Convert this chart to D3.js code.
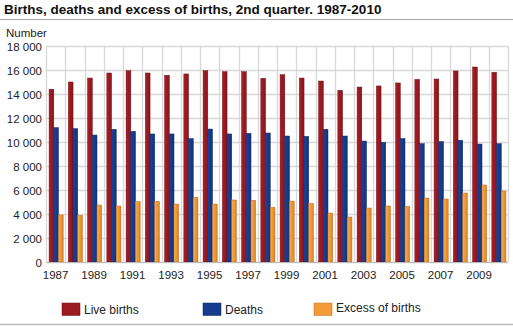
<!DOCTYPE html>
<html><head><meta charset="utf-8">
<script src="https://cdn.jsdelivr.net/npm/d3@7"></script>
<style>body{margin:0;background:#fff}svg{display:block;font-family:"Liberation Sans",Arial,sans-serif}</style>
</head><body><svg id="c" width="513" height="326"></svg>
<script>
const years = ["1987","1988","1989","1990","1991","1992","1993","1994","1995","1996","1997","1998","1999","2000","2001","2002","2003","2004","2005","2006","2007","2008","2009","2010"];
const liveBirths = [14400,15000,15330,15750,15940,15750,15560,15670,15940,15860,15860,15310,15610,15330,15080,14310,14580,14670,14920,15220,15250,15920,16250,15810];
const deaths = [11200,11110,10580,11060,10890,10670,10670,10280,11080,10670,10720,10750,10500,10470,11060,10500,10080,9970,10280,9860,10030,10140,9830,9860];
const excess = [3920,3890,4750,4670,5030,5060,4830,5390,4830,5170,5140,4560,5080,4890,4080,3750,4500,4670,4640,5330,5250,5750,6420,5920];
const seriesNames = ["Live births","Deaths","Excess of births"];
const colors = ["#9c1a22","#173c8e","#f39b39"];
const strokes = ["#6e1016","#0e2560","#c06f22"];
const yTicks = [0,2000,4000,6000,8000,10000,12000,14000,16000,18000];
const yLabels = ["0","2 000","4 000","6 000","8 000","10 000","12 000","14 000","16 000","18 000"];

const svg = d3.select("#c");
const L=46, R=508, T=46, B=262;
const x = d3.scaleBand().domain(years).range([L,R]).padding(0);
const y = d3.scaleLinear().domain([0,18000]).range([B,T]);
const xs = d3.scaleBand().domain(seriesNames).range([0,x.bandwidth()]).paddingInner(0).paddingOuter(0.55).align(0.6);

// title
svg.append("text").attr("x",4).attr("y",14).attr("font-size",13.5).attr("font-weight","bold").attr("fill","#111")
  .text("Births, deaths and excess of births, 2nd quarter. 1987-2010");
svg.append("line").attr("x1",0).attr("x2",513).attr("y1",19.5).attr("y2",19.5).attr("stroke","#aaa").attr("stroke-width",1);
svg.append("text").attr("x",6).attr("y",37).attr("font-size",11.5).attr("fill","#222").text("Number");

// grid
const g = svg.append("g");
g.selectAll(".hg").data(yTicks).join("line").attr("x1",L).attr("x2",R)
  .attr("y1",d=>Math.round(y(d))+0.5).attr("y2",d=>Math.round(y(d))+0.5).attr("stroke","#d8d8d8").attr("stroke-width",1.3);
const vb = years.map(d=>x(d)).concat([R]);
g.selectAll(".vg").data(vb).join("line").attr("y1",T).attr("y2",B)
  .attr("x1",d=>Math.round(d)+0.5).attr("x2",d=>Math.round(d)+0.5).attr("stroke","#d8d8d8").attr("stroke-width",1.3);

// y axis
const ya = svg.append("g").attr("transform",`translate(${L-4},0)`)
  .call(d3.axisLeft(y).tickValues(yTicks).tickFormat((d,i)=>yLabels[i]).tickSize(0).tickPadding(0));
ya.select(".domain").remove();
ya.selectAll("text").attr("font-size",11.5).attr("fill","#222").attr("font-family","Liberation Sans, Arial, sans-serif").attr("dy","0.36em");

// x axis
const xa = svg.append("g").attr("transform",`translate(0,${B})`)
  .call(d3.axisBottom(x).tickValues(years.filter((d,i)=>i%2===0)).tickSize(0).tickPadding(9));
xa.select(".domain").remove();
xa.selectAll("text").attr("font-size",11.5).attr("fill","#222").attr("font-family","Liberation Sans, Arial, sans-serif");

// gradients
const defs = svg.append("defs");
colors.forEach((c,i)=>{
  const gr = defs.append("linearGradient").attr("id","gr"+i).attr("x1","0").attr("x2","1").attr("y1","0").attr("y2","0");
  gr.append("stop").attr("offset","0").attr("stop-color",d3.color(c).brighter(0.35));
  gr.append("stop").attr("offset","0.4").attr("stop-color",c);
  gr.append("stop").attr("offset","1").attr("stop-color",d3.color(c).darker(0.4));
});

const data = [liveBirths,deaths,excess];
data.forEach((arr,si)=>{
  svg.append("g").selectAll("rect").data(arr).join("rect")
    .attr("x",(d,i)=>x(years[i])+xs(seriesNames[si]))
    .attr("width",xs.bandwidth())
    .attr("y",d=>y(d)).attr("height",d=>B-y(d))
    .attr("fill",`url(#gr${si})`).attr("stroke",strokes[si]).attr("stroke-width",0.5);
});

// bottom axis line
svg.append("line").attr("x1",L).attr("x2",R).attr("y1",B+0.5).attr("y2",B+0.5).attr("stroke","#bbb");

// legend
const lx = [62,203,314];
seriesNames.forEach((n,i)=>{
  svg.append("rect").attr("x",lx[i]).attr("y",303).attr("width",18).attr("height",12.5).attr("fill",colors[i]).attr("stroke",strokes[i]).attr("stroke-width",0.5);
  svg.append("text").attr("x",lx[i]+22).attr("y",i===2?312:314).attr("font-size",12).attr("fill","#222").text(n);
});
svg.append("line").attr("x1",0).attr("x2",513).attr("y1",324.5).attr("y2",324.5).attr("stroke","#bbb").attr("stroke-width",1.5);
</script></body></html>
